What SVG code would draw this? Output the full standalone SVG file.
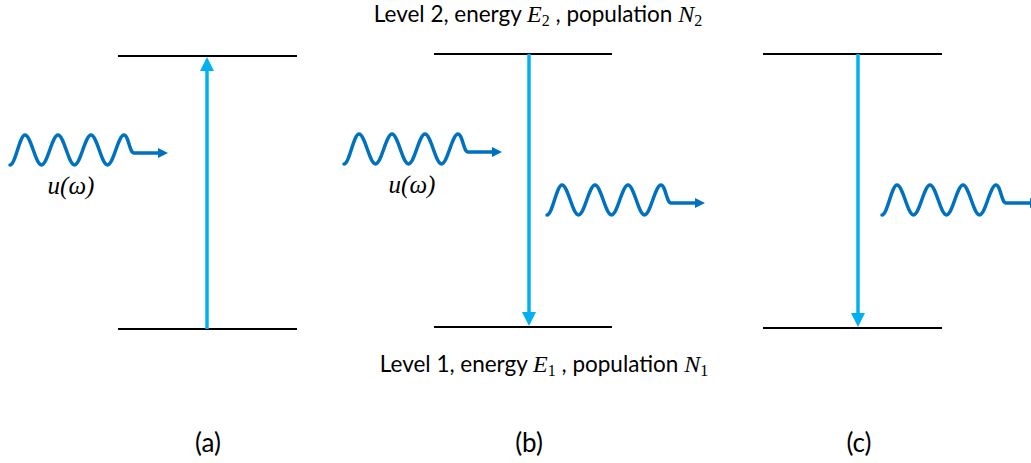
<svg xmlns="http://www.w3.org/2000/svg" xmlns:xlink="http://www.w3.org/1999/xlink" width="1031" height="463" viewBox="0 0 1031 463">
<style>
.lvl{stroke:#000;stroke-width:2;fill:none}
.trans{stroke:#00B0F0;stroke-width:3.5;fill:none}
.wave{stroke:#0070C0;stroke-width:3.5;fill:none;stroke-linecap:round}
.lbl{font-family:Lato,"Liberation Sans",sans-serif;font-size:22.5px;fill:#000}
.math{font-family:"Liberation Serif",serif;font-style:italic;font-size:24px}
.sub{font-family:"Liberation Serif",serif;font-style:normal;font-size:16px}
.cap{font-family:Lato,"Liberation Sans",sans-serif;font-size:26px;fill:#000;text-anchor:middle}
.u{font-family:"Liberation Serif",serif;font-style:italic;font-size:25px;fill:#000;text-anchor:middle}
</style>
<defs>
<marker id="hb" markerUnits="userSpaceOnUse" markerWidth="14" markerHeight="14" viewBox="0 0 14 14" refX="8" refY="7" orient="auto">
<path d="M0,0 L14,7 L0,14 z" fill="#00B0F0"/>
</marker>
<marker id="hw" markerUnits="userSpaceOnUse" markerWidth="10" markerHeight="10" viewBox="0 0 10 10" refX="2" refY="5" orient="auto">
<path d="M0,0 L10,5 L0,10 z" fill="#0070C0"/>
</marker>
<path id="wv" class="wave" marker-end="url(#hw)" d="M0,0 C5.4,0 9.6,-30 15,-30 C20.94,-30 25.56,0 31.5,0 C37.44,0 42.06,-30 48,-30 C53.94,-30 58.56,0 64.5,0 C70.44,0 75.06,-30 81,-30 C86.94,-30 91.56,0 97.5,0 C103.44,0 108.06,-30 114,-30 C118.5,-30 119.5,-12 124,-12 L150,-12"/>
</defs>

<g id="labels">
<text class="lbl" x="538" y="22" text-anchor="middle">Level 2, energy <tspan class="math">E</tspan><tspan class="sub" dy="4">2</tspan><tspan dy="-4"> , population </tspan><tspan class="math">N</tspan><tspan class="sub" dy="4">2</tspan></text>
<text class="lbl" x="544" y="372" text-anchor="middle">Level 1, energy <tspan class="math">E</tspan><tspan class="sub" dy="4">1</tspan><tspan dy="-4"> , population </tspan><tspan class="math">N</tspan><tspan class="sub" dy="4">1</tspan></text>
</g>

<g id="node-a">
<line class="lvl" x1="118" y1="56" x2="297" y2="56"/>
<line class="lvl" x1="118" y1="329" x2="297" y2="329"/>
<use xlink:href="#wv" x="10" y="165"/>
<text class="u" x="71" y="194">u(ω)</text>
<text class="cap" x="208" y="452">(a)</text>
</g>

<g id="node-b">
<line class="lvl" x1="434" y1="54" x2="612" y2="54"/>
<line class="lvl" x1="434" y1="327" x2="612" y2="327"/>
<use xlink:href="#wv" x="344" y="164"/>
<use xlink:href="#wv" x="547" y="215"/>
<text class="u" x="412" y="193">u(ω)</text>
<text class="cap" x="529" y="452">(b)</text>
</g>

<g id="node-c">
<line class="lvl" x1="763" y1="54" x2="942" y2="54"/>
<line class="lvl" x1="763" y1="328" x2="942" y2="328"/>
<use xlink:href="#wv" x="882" y="215"/>
<text class="cap" x="859" y="452">(c)</text>
</g>

<g id="connectors">
<line class="trans" x1="207" y1="329" x2="207" y2="63" marker-end="url(#hb)"/>
<line class="trans" x1="529" y1="54" x2="529" y2="320" marker-end="url(#hb)"/>
<line class="trans" x1="858" y1="54" x2="858" y2="321" marker-end="url(#hb)"/>
</g>
</svg>
